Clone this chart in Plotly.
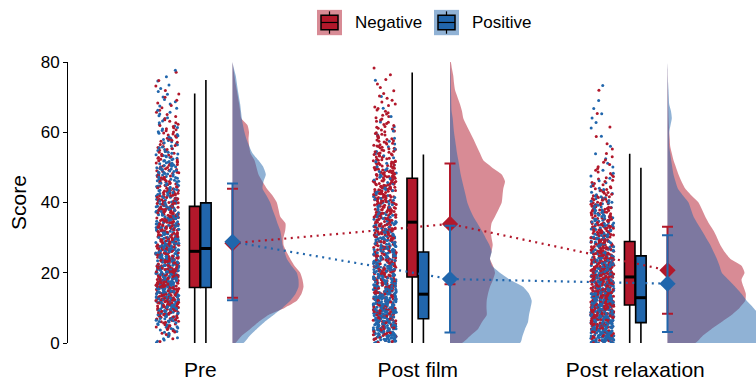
import numpy as np
import plotly.graph_objects as go

# ---------------- data ----------------
CATEGORIES = ["Pre", "Post film", "Post relaxation"]
GROUPS = ["Negative", "Positive"]

# box-plot statistics (Score)
NEG_Q1 = [15.8, 18.8, 10.8]
NEG_MED = [26.1, 34.4, 18.8]
NEG_Q3 = [38.9, 46.9, 28.9]
NEG_LO = [0, 0, 0]
NEG_HI = [71.0, 77.0, 53.9]

POS_Q1 = [15.8, 6.9, 5.8]
POS_MED = [26.9, 13.9, 12.9]
POS_Q3 = [39.9, 25.9, 24.8]
POS_LO = [0, 0, 0]
POS_HI = [74.9, 53.7, 49.9]

# means and standard deviations
NEG_MEAN = [28.4, 33.9, 20.7]
NEG_SD = [15.5, 17.2, 12.4]
POS_MEAN = [28.8, 18.2, 16.9]
POS_SD = [16.6, 15.2, 13.8]

# half-violin density profiles, evaluated at SCORE_GRID (relative density)
SCORE_GRID = list(range(0, 82, 2))
DENS_NEG_PRE = [2.7, 9, 17.7, 26, 36, 52, 64.3, 69, 71, 70, 67.7, 62, 57.7, 54, 51, 51, 52.7, 53, 47.7, 46,
                44.3, 40, 34.3, 30, 26, 24, 22, 18, 16.7, 16, 16.5, 15, 8.7, 7.7, 6.7, 5.5, 4.3, 3, 2, 1, 0]
DENS_POS_PRE = [11, 17, 24.3, 32, 41, 50, 57.7, 63, 66, 66, 64.3, 59, 54.3, 52, 50, 49, 47.7, 45, 42.7, 40,
                37.7, 34, 30, 31, 33.3, 31, 26, 20, 16.7, 14, 12, 10.5, 9.3, 8.5, 7.7, 6.5, 5.3, 4.3, 3.3, 1.5, 0]
DENS_NEG_FILM = [12, 20, 28, 32, 36.7, 36.5, 36.7, 38, 40, 43, 45, 43, 40, 41.5, 42.7, 41.5, 40.7, 41.5, 45, 48.5,
                 51.7, 52.5, 53.3, 55, 51.7, 42, 33.3, 30, 26.7, 23.5, 20, 16.5, 13.3, 12, 10, 7.5, 5, 4, 3.3, 2, 0.7]
DENS_POS_FILM = [70, 72.5, 75, 78, 79, 80.5, 81.7, 79, 73, 60, 50, 42, 40, 41.7, 39.3, 35.5, 31.7, 27.5, 23.3, 20,
                 17.3, 15.7, 14, 12.3, 10.7, 9.5, 8.3, 7, 6, 5, 4, 3.3, 2.7, 1.6, 1.3, 1.2, 1, 0.8, 0.7, 0.3, 0]
DENS_NEG_RELAX = [27.7, 35, 44, 54, 64, 72, 77.7, 78.3, 76, 74, 77, 74, 62.7, 57, 52.7, 49.5, 46, 41.5, 37.7, 34.5,
                  31, 24, 17.7, 14, 11, 8.5, 6, 4.3, 2.7, 2.2, 1.7, 1.4, 1.1, 0.9, 0.7, 0.6, 0.5, 0.4, 0.3, 0.2, 0]
DENS_POS_RELAX = [95, 96, 96, 95, 92, 86, 79.3, 74, 67.7, 61, 54.3, 52, 49.3, 46, 42.7, 38.5, 34.3, 30, 26, 23.5,
                  21, 15.5, 10.3, 8, 6, 4.8, 3.7, 2.7, 1.7, 1.7, 1.7, 3, 4.3, 3.5, 1.7, 1.3, 1, 0.6, 0.3, 0.3, 0]

N_PER_GROUP = [540, 540, 540]   # participants per group shown as rain points

DENS_NEG = [DENS_NEG_PRE, DENS_NEG_FILM, DENS_NEG_RELAX]
DENS_POS = [DENS_POS_PRE, DENS_POS_FILM, DENS_POS_RELAX]

# ---------------- styling ----------------
RED = "#B2182B"
BLUE = "#2166AC"
RED_A = "rgba(178,24,43,0.5)"
BLUE_A = "rgba(33,102,172,0.5)"
FONT = "Liberation Sans, Arial, sans-serif"

W, H = 756, 381
ML, MR, MT, MB = 68, 0, 62, 36
PX_PER_UNIT = 217.5
X0 = 1 - (200.3 - ML) / PX_PER_UNIT
X1 = X0 + (W - ML - MR) / PX_PER_UNIT

OFF_RAIN = -33 / PX_PER_UNIT
RAIN_HALF = 11.5 / PX_PER_UNIT
OFF_BOX = 5.6 / PX_PER_UNIT
BOX_W = 10.5 / PX_PER_UNIT
OFF_MEAN = 32.2 / PX_PER_UNIT
DENS_SCALE = 1 / PX_PER_UNIT

cats = np.arange(1, len(CATEGORIES) + 1)
grid = np.array(SCORE_GRID, dtype=float)

fig = go.Figure()

# ---- clouds (half violins) ----
for i, c in enumerate(cats):
    base = c + OFF_MEAN
    for dens, col in ((DENS_NEG[i], RED_A), (DENS_POS[i], BLUE_A)):
        d = np.array(dens, dtype=float)
        xs = [base] + list(base + d * DENS_SCALE) + [base]
        ys = [0] + list(grid) + [80]
        fig.add_trace(go.Scatter(x=xs, y=ys, mode="lines", fill="toself", fillcolor=col,
                                 line=dict(width=0, shape="spline", smoothing=0.6),
                                 hoverinfo="skip", showlegend=False))


# ---- rain (scores at density quantiles, horizontal jitter from a fixed hash) ----
def inv_cdf(dens, u):
    d = np.array(dens, dtype=float)
    cdf = np.concatenate([[0], np.cumsum((d[1:] + d[:-1]) / 2)])
    cdf /= cdf[-1]
    return np.interp(u, cdf, grid)


def jitter_hash(k, salt):
    v = np.sin(k * 12.9898 + salt * 78.233) * 43758.5453
    return v - np.floor(v)


for i, c in enumerate(cats):
    n = N_PER_GROUP[i]
    k = np.arange(n)
    q = (k + 0.5) / n
    yn = inv_cdf(DENS_NEG[i], q)
    yp = inv_cdf(DENS_POS[i], q)
    xn = c + OFF_RAIN + (2 * jitter_hash(k, 3 * i + 1) - 1) * RAIN_HALF
    xp = c + OFF_RAIN + (2 * jitter_hash(k, 3 * i + 2) - 1) * RAIN_HALF
    xs = np.concatenate([xn, xp])
    ys = np.concatenate([yn, yp])
    cols = np.array([RED] * n + [BLUE] * n)
    order = np.argsort(jitter_hash(np.arange(2 * n), 3 * i + 3))
    fig.add_trace(go.Scatter(x=xs[order], y=ys[order], mode="markers",
                             marker=dict(size=3, color=list(cols[order]), line=dict(width=0)),
                             hoverinfo="skip", showlegend=False))

# ---- boxes ----
for off, q1, med, q3, lo, hi, col, name in (
        (-OFF_BOX, NEG_Q1, NEG_MED, NEG_Q3, NEG_LO, NEG_HI, RED, GROUPS[0]),
        (OFF_BOX, POS_Q1, POS_MED, POS_Q3, POS_LO, POS_HI, BLUE, GROUPS[1])):
    fig.add_trace(go.Box(x=list(cats + off), q1=q1, median=med, q3=q3, lowerfence=lo, upperfence=hi,
                         width=BOX_W, fillcolor=col, line=dict(color="black", width=1.6),
                         whiskerwidth=0, boxpoints=False, name=name, showlegend=False))
    mx, my = [], []
    for j, c in enumerate(cats):
        mx += [c + off - BOX_W / 2, c + off + BOX_W / 2, None]
        my += [med[j], med[j], None]
    fig.add_trace(go.Scatter(x=mx, y=my, mode="lines", line=dict(color="black", width=3),
                             hoverinfo="skip", showlegend=False))

# ---- mean trend lines ----
for mean, col in ((NEG_MEAN, RED), (POS_MEAN, BLUE)):
    fig.add_trace(go.Scatter(x=list(cats + OFF_MEAN), y=mean, mode="lines",
                             line=dict(color=col, width=2.2, dash="2px,4.5px"),
                             hoverinfo="skip", showlegend=False))

# ---- means with SD error bars ----
for mean, sd, col in ((NEG_MEAN, NEG_SD, RED), (POS_MEAN, POS_SD, BLUE)):
    fig.add_trace(go.Scatter(x=list(cats + OFF_MEAN), y=mean, mode="markers",
                             marker=dict(symbol="diamond", size=12.5, color=col, line=dict(width=0)),
                             error_y=dict(type="data", array=sd, color=col, thickness=2, width=5.5),
                             showlegend=False))


# ---- legend (drawn manually, ggplot style keys) ----
def px2x(px):
    return (px - ML) / (W - ML - MR)


def py2y(py):
    return (H - MB - py) / (H - MT - MB)


shapes = []
annotations = []
for left, fill, light, label in ((317, RED, RED_A, GROUPS[0]), (434, BLUE, BLUE_A, GROUPS[1])):
    shapes.append(dict(type="rect", xref="paper", yref="paper", x0=px2x(left), x1=px2x(left + 25),
                       y0=py2y(35), y1=py2y(9.5), fillcolor=light, line=dict(width=0), layer="above"))
    cx = left + 12.5
    shapes.append(dict(type="line", xref="paper", yref="paper", x0=px2x(cx), x1=px2x(cx),
                       y0=py2y(33.5), y1=py2y(11), line=dict(color="black", width=1.2), layer="above"))
    shapes.append(dict(type="rect", xref="paper", yref="paper", x0=px2x(left + 4), x1=px2x(left + 21),
                       y0=py2y(29.5), y1=py2y(15), fillcolor=fill, line=dict(color="black", width=1.5),
                       layer="above"))
    shapes.append(dict(type="line", xref="paper", yref="paper", x0=px2x(left + 4), x1=px2x(left + 21),
                       y0=py2y(22.2), y1=py2y(22.2), line=dict(color="black", width=1.2), layer="above"))
    annotations.append(dict(text=label, xref="paper", yref="paper", x=px2x(left + 36), y=py2y(22.5),
                            xanchor="left", yanchor="middle", showarrow=False,
                            font=dict(size=17, color="black", family=FONT)))

fig.update_layout(
    width=W, height=H,
    margin=dict(l=ML, r=MR, t=MT, b=MB, pad=0),
    paper_bgcolor="white", plot_bgcolor="white",
    showlegend=False, boxmode="overlay", hovermode=False,
    font=dict(family=FONT, color="black"),
    shapes=shapes, annotations=annotations,
    xaxis=dict(range=[X0, X1], tickvals=list(cats), ticktext=CATEGORIES, showgrid=False, zeroline=False,
               showline=False, ticks="outside", ticklen=8, tickcolor="rgba(0,0,0,0)",
               tickfont=dict(size=21, color="black", family=FONT)),
    yaxis=dict(range=[0, 80], tickvals=[0, 20, 40, 60, 80], showgrid=False, zeroline=False,
               showline=True, linecolor="black", linewidth=1, ticks="outside", ticklen=4,
               tickcolor="black", tickwidth=1, tickfont=dict(size=17, color="black", family=FONT),
               title=dict(text="Score", font=dict(size=21, color="black", family=FONT), standoff=8)),
)

fig.write_html("out.html", config={"displayModeBar": False},
               post_script="document.body.style.margin='0';document.body.style.padding='0';")
